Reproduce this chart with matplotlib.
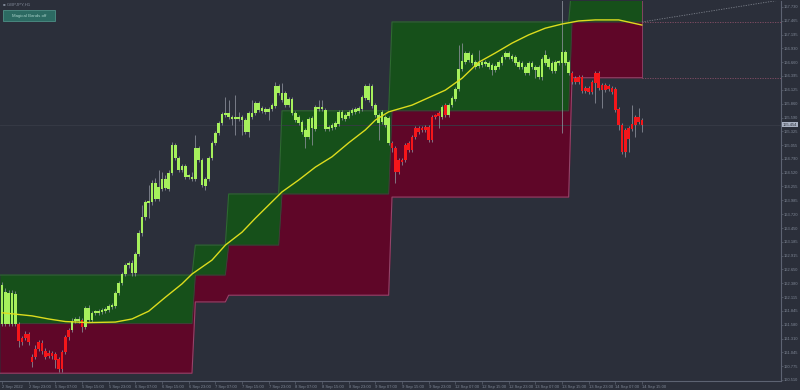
import numpy as np
import matplotlib
matplotlib.use("Agg")
import matplotlib.pyplot as plt

# ---------------- data ----------------
symbol = "GBPJPY,H1"
button_text = "Magical Bands off"

open_ = [161.59, 161.59, 161.59, 161.59, 161.59, 161.59, 161.32, 161.40, 161.40, 160.95,
         161.11, 161.24, 161.22, 161.07, 161.03, 161.03, 161.01, 160.91, 161.05, 161.34,
         161.48, 161.48, 161.65, 161.65, 161.67, 161.53, 161.67, 161.67, 161.81, 161.81,
         161.83, 161.84, 161.86, 161.92, 161.94, 162.19, 162.39, 162.56, 162.74, 162.58,
         162.58, 162.95, 163.35, 163.66, 163.94, 163.95, 164.01, 164.01, 164.21, 164.23,
         164.21, 164.52, 164.81, 164.57, 164.57, 164.44, 164.44, 164.40, 164.40, 164.77,
         164.28, 164.26, 164.40, 164.81, 165.10, 165.29, 165.48, 165.64, 165.60, 165.56,
         165.56, 165.56, 165.54, 165.31, 165.31, 165.60, 165.68, 165.74, 165.72, 165.70,
         165.70, 165.76, 165.81, 166.07, 165.93, 165.83, 165.83, 165.68, 165.54, 165.48,
         165.31, 165.21, 165.21, 165.39, 165.37, 165.76, 165.76, 165.37, 165.37, 165.39,
         165.41, 165.46, 165.58, 165.56, 165.62, 165.68, 165.70, 165.72, 165.76, 165.97,
         165.93, 165.81, 165.64, 165.48, 165.50, 165.45, 165.10, 165.10, 165.00, 164.77,
         164.77, 165.06, 165.10, 165.21, 165.39, 165.39, 165.39, 165.41, 165.41, 165.60,
         165.62, 165.68, 165.60, 165.83, 165.64, 165.83, 165.95, 166.14, 166.53, 166.67,
         166.70, 166.65, 166.57, 166.59, 166.61, 166.63, 166.57, 166.51, 166.51, 166.57,
         166.65, 166.76, 166.76, 166.72, 166.65, 166.57, 166.57, 166.45, 166.45, 166.57,
         166.51, 166.37, 166.37, 166.65, 166.57, 166.49, 166.49, 166.65, 166.65, 166.65,
         166.45, 166.45, 166.36, 166.37, 166.37, 166.16, 166.16, 166.28, 166.45, 166.45,
         166.22, 166.22, 166.20, 166.16, 166.14, 165.76, 165.45, 165.35, 165.39, 165.46,
         165.60, 165.60, 165.54]

high = [162.41, 162.29, 162.25, 162.25, 162.23, 161.63, 161.36, 161.46, 161.44, 161.01,
        161.19, 161.28, 161.28, 161.13, 161.09, 161.07, 161.05, 160.95, 161.09, 161.38,
        161.52, 161.71, 161.73, 161.75, 161.71, 161.94, 161.96, 161.84, 161.86, 161.88,
        161.90, 161.92, 161.98, 162.00, 162.23, 162.43, 162.60, 162.77, 162.81, 162.83,
        162.99, 163.41, 163.90, 163.99, 164.28, 164.38, 164.42, 164.57, 164.54, 164.48,
        164.57, 165.12, 165.10, 164.85, 164.69, 164.69, 164.50, 164.54, 165.25, 165.04,
        164.81, 164.44, 164.85, 165.14, 165.33, 165.52, 165.70, 165.99, 165.93, 165.64,
        166.03, 165.70, 165.64, 165.58, 165.72, 165.93, 165.91, 165.91, 165.81, 165.79,
        165.79, 165.87, 166.28, 166.24, 166.26, 166.10, 165.99, 165.99, 165.72, 165.64,
        165.54, 165.39, 165.60, 165.62, 165.83, 165.93, 165.93, 165.77, 165.45, 165.48,
        165.52, 165.74, 165.74, 165.68, 165.74, 165.77, 165.79, 165.81, 166.03, 166.24,
        166.26, 166.24, 165.87, 165.68, 165.74, 165.64, 165.62, 165.14, 165.04, 164.81,
        164.81, 165.10, 165.14, 165.25, 165.43, 165.43, 165.43, 165.45, 165.45, 165.64,
        165.66, 165.72, 165.83, 165.87, 165.87, 166.01, 166.18, 166.99, 167.03, 166.88,
        166.88, 166.84, 166.70, 166.90, 166.70, 166.70, 166.68, 166.65, 166.63, 166.70,
        166.80, 166.88, 166.88, 166.82, 166.80, 166.70, 166.68, 166.61, 166.68, 166.68,
        166.61, 166.61, 166.76, 166.90, 166.76, 166.68, 166.70, 166.70, 167.87, 166.90,
        166.70, 166.49, 166.39, 166.41, 166.41, 166.20, 166.20, 166.32, 166.49, 166.49,
        166.26, 166.26, 166.24, 166.20, 166.18, 165.79, 165.48, 165.39, 165.43, 165.83,
        165.64, 165.77, 165.58]

low = [161.55, 161.55, 161.55, 161.55, 161.55, 161.15, 161.19, 161.28, 161.19, 160.76,
       160.91, 161.07, 161.01, 160.91, 160.93, 160.91, 160.74, 160.66, 160.66, 161.01,
       161.28, 161.44, 161.61, 161.61, 161.44, 161.50, 161.63, 161.63, 161.77, 161.77,
       161.79, 161.81, 161.83, 161.88, 161.90, 162.15, 162.35, 162.52, 162.68, 162.52,
       162.52, 162.91, 163.30, 163.61, 163.65, 163.90, 163.97, 163.97, 164.17, 164.19,
       164.17, 164.48, 164.77, 164.54, 164.54, 164.40, 164.40, 164.36, 164.36, 164.73,
       164.25, 164.19, 164.36, 164.77, 165.06, 165.25, 165.45, 165.60, 165.56, 165.45,
       165.25, 165.52, 165.25, 165.27, 165.21, 165.56, 165.64, 165.70, 165.68, 165.66,
       165.54, 165.72, 165.77, 166.03, 165.89, 165.79, 165.79, 165.64, 165.50, 165.45,
       165.27, 165.00, 165.17, 165.06, 165.33, 165.72, 165.72, 165.33, 165.33, 165.35,
       165.37, 165.43, 165.54, 165.52, 165.58, 165.64, 165.66, 165.68, 165.72, 165.93,
       165.89, 165.77, 165.60, 165.16, 165.46, 165.41, 165.06, 164.92, 164.32, 164.50,
       164.67, 164.73, 164.92, 164.92, 165.17, 165.27, 165.31, 165.31, 165.12, 165.12,
       165.56, 165.39, 165.56, 165.60, 165.60, 165.79, 165.91, 166.10, 166.49, 166.63,
       166.67, 166.61, 166.53, 166.55, 166.57, 166.59, 166.53, 166.41, 166.47, 166.53,
       166.61, 166.72, 166.72, 166.68, 166.61, 166.53, 166.53, 166.41, 166.41, 166.53,
       166.36, 166.34, 166.32, 166.61, 166.53, 166.45, 166.45, 166.61, 165.29, 166.61,
       166.41, 166.24, 166.24, 166.24, 166.07, 166.07, 166.05, 166.05, 165.87, 166.12,
       165.77, 166.08, 166.10, 166.05, 165.70, 165.35, 164.88, 164.83, 164.92, 165.33,
       165.21, 165.46, 165.31]

close = [162.35, 162.21, 162.19, 162.19, 162.17, 161.26, 161.24, 161.32, 161.24, 160.86,
         160.95, 161.11, 161.07, 160.95, 160.97, 160.97, 160.90, 160.72, 160.72, 161.05,
         161.34, 161.65, 161.69, 161.69, 161.53, 161.90, 161.90, 161.81, 161.83, 161.84,
         161.86, 161.88, 161.94, 161.96, 162.19, 162.39, 162.56, 162.74, 162.77, 162.77,
         162.95, 163.35, 163.66, 163.95, 163.97, 164.32, 164.32, 164.25, 164.40, 164.40,
         164.52, 165.06, 165.06, 164.81, 164.65, 164.65, 164.46, 164.44, 165.00, 165.00,
         164.77, 164.40, 164.81, 165.10, 165.29, 165.48, 165.66, 165.68, 165.68, 165.60,
         165.60, 165.60, 165.60, 165.54, 165.68, 165.68, 165.87, 165.87, 165.77, 165.76,
         165.76, 165.83, 166.20, 166.20, 166.07, 166.07, 165.95, 165.95, 165.68, 165.60,
         165.50, 165.35, 165.56, 165.58, 165.79, 165.79, 165.79, 165.74, 165.41, 165.45,
         165.48, 165.70, 165.70, 165.64, 165.70, 165.74, 165.76, 165.77, 165.99, 166.20,
         166.20, 166.20, 165.83, 165.64, 165.70, 165.60, 165.58, 165.00, 164.54, 164.54,
         164.73, 164.77, 164.96, 164.96, 165.21, 165.31, 165.35, 165.35, 165.16, 165.16,
         165.60, 165.62, 165.79, 165.64, 165.83, 165.97, 166.14, 166.53, 166.68, 166.84,
         166.84, 166.80, 166.67, 166.65, 166.67, 166.67, 166.65, 166.61, 166.59, 166.67,
         166.76, 166.84, 166.84, 166.78, 166.76, 166.67, 166.65, 166.57, 166.65, 166.65,
         166.57, 166.57, 166.72, 166.80, 166.72, 166.65, 166.67, 166.67, 166.86, 166.86,
         166.67, 166.28, 166.28, 166.28, 166.10, 166.10, 166.08, 166.08, 166.26, 166.16,
         166.12, 166.12, 166.14, 166.08, 165.74, 165.45, 164.92, 164.92, 165.17, 165.37,
         165.45, 165.50, 165.45]

# Stepped band segments (bar index ranges and levels)
seg_start = [0, 58, 68, 84, 117, 171]
seg_end = [57, 67, 83, 116, 170, 192]
band_upper = [162.54, 163.12, 164.11, 165.72, 167.44, 168.20]
band_mid = [161.60, 162.54, 163.12, 164.11, 165.72, 167.44]
band_lower = [160.64, 162.02, 162.15, 162.15, 164.05, 166.36]

# Moving average read at sample bars
ma_bar = [0, 9, 14, 19, 26, 34, 39, 44, 49, 54, 57, 63, 67, 72, 76, 84, 89, 94, 99, 104,
          109, 112, 116, 123, 133, 138, 143, 148, 153, 158, 163, 168, 173, 178, 185, 192]
ma_val = [161.81, 161.75, 161.69, 161.64, 161.62, 161.63, 161.69, 161.84, 162.11, 162.37,
          162.56, 162.83, 163.12, 163.37, 163.64, 164.15, 164.38, 164.63, 164.83, 165.10,
          165.35, 165.54, 165.70, 165.83, 166.12, 166.35, 166.66, 166.84, 167.03, 167.19,
          167.32, 167.40, 167.46, 167.48, 167.48, 167.38]

# projection after the last bar
proj_bar = [192, 233]
proj_upper = [167.44, 167.86]

bid = 165.454

price_ticks = [167.730, 167.465, 167.195, 166.930, 166.660, 166.395, 166.125, 165.860,
               165.590, 165.325, 165.055, 164.790, 164.520, 164.255, 163.985, 163.720,
               163.450, 163.185, 162.915, 162.650, 162.380, 162.115, 161.845, 161.580,
               161.310, 161.045, 160.775, 160.510]

time_labels = ["2 Sep 2022", "2 Sep 23:00", "5 Sep 07:00", "5 Sep 15:00", "5 Sep 23:00",
               "6 Sep 07:00", "6 Sep 15:00", "6 Sep 23:00", "7 Sep 07:00", "7 Sep 15:00",
               "7 Sep 23:00", "8 Sep 07:00", "8 Sep 15:00", "8 Sep 23:00", "9 Sep 07:00",
               "9 Sep 15:00", "9 Sep 23:00", "12 Sep 07:00", "12 Sep 15:00", "12 Sep 23:00",
               "13 Sep 07:00", "13 Sep 15:00", "13 Sep 23:00", "14 Sep 07:00", "14 Sep 15:00"]
bars_per_label = 8

# ---------------- style ----------------
BG = "#2b2f3a"
GREEN_FILL = "#16501a"
RED_FILL = "#5f0628"
GREEN_EDGE = "#2d6b2f"
RED_EDGE = "#93456a"
LIME = "#a6f05c"
RED = "#f4161a"
WICK = "#8d929c"
MA_COL = "#dcdc1e"
AXIS = "#5d6372"
TXT = "#7f8796"
FONT = "Liberation Sans"

plt.rcParams["font.family"] = [FONT, "DejaVu Sans"]

o = np.array(open_); h = np.array(high); l = np.array(low); c = np.array(close)
n = len(c)
x = np.arange(n)

up = np.zeros(n); md = np.zeros(n); lo = np.zeros(n)
for s, e, u_, m_, l_ in zip(seg_start, seg_end, band_upper, band_mid, band_lower):
    up[s:e + 1] = u_
    md[s:e + 1] = m_
    lo[s:e + 1] = l_

fig = plt.figure(figsize=(8, 3.9), dpi=100)
fig.patch.set_facecolor(BG)
ax = fig.add_axes([0, 9 / 390, 781 / 800, 380 / 390])
ax.set_facecolor(BG)
XMIN, XMAX = -0.6, 233.7
ax.set_xlim(XMIN, XMAX)
ax.set_ylim(160.489, 167.846)

# extend first segment to left border
xb = np.concatenate([[XMIN], x])
upb = np.concatenate([[up[0]], up])
mdb = np.concatenate([[md[0]], md])
lob = np.concatenate([[lo[0]], lo])

ax.fill_between(xb, mdb, upb, color=GREEN_FILL, lw=0, zorder=1)
ax.fill_between(xb, lob, mdb, color=RED_FILL, lw=0, zorder=1)
ax.plot(xb, upb, color=GREEN_EDGE, lw=0.8, zorder=1.5)
ax.plot(xb, mdb, color="#4a3a3e", lw=0.6, zorder=1.5)
ax.plot(xb, lob, color=RED_EDGE, lw=0.8, zorder=1.5)
# right edge of last box
ax.vlines(x[-1], lo[-1], up[-1], color=RED_EDGE, lw=0.6, zorder=1.5)

# projections
ax.hlines([md[-1], lo[-1]], x[-1], XMAX, colors="#8a5068", lw=0.6,
          linestyles=(0, (1.5, 1.5)), zorder=1.5)
ax.plot(proj_bar, proj_upper, color="#7c818b", lw=0.6, ls=(0, (1.5, 1.5)), zorder=1.5)

# bid line
ax.axhline(bid, color="#373b46", lw=0.6, zorder=1.2)

# candles
cols = np.where(c >= md, LIME, RED)
ax.vlines(x, l, h, color=WICK, lw=0.55, zorder=3)
bot = np.minimum(o, c)
hgt = np.maximum(np.abs(c - o), 0.03)
ax.bar(x, hgt, bottom=bot, width=0.72, color=cols, lw=0, zorder=4)

# moving average
ax.plot(ma_bar, ma_val, color=MA_COL, lw=1.0, zorder=5, solid_capstyle="round")

# axes
for sp in ["top", "left"]:
    ax.spines[sp].set_visible(False)
ax.spines["right"].set_color(AXIS)
ax.spines["bottom"].set_color(AXIS)
ax.spines["right"].set_linewidth(0.8)
ax.spines["bottom"].set_linewidth(0.8)

ax.yaxis.set_ticks_position("right")
ax.set_yticks(price_ticks, labels=[f"{p:.3f}" for p in price_ticks])
ax.tick_params(axis="y", colors=AXIS, labelcolor=TXT, labelsize=2.9, length=1.5,
               width=0.5, pad=0.8)

tick_pos = np.arange(0, n, bars_per_label)
ax.set_xticks(tick_pos, labels=time_labels)
ax.tick_params(axis="x", colors=AXIS, labelcolor=TXT, labelsize=3.0, length=1.8,
               width=0.5, pad=0.8)
for t in ax.get_xticklabels():
    t.set_horizontalalignment("left")

# bid price label
ax.text(1.002, bid, f"{bid:.3f}", transform=ax.get_yaxis_transform(), fontsize=2.9,
        va="center", ha="left", color="#2b2f3a",
        bbox=dict(boxstyle="square,pad=0.2", fc="#aab2c3", ec="none"), zorder=10)

# title & button
fig.text(3 / 800, 1 - 4.5 / 390, "\u25a0 " + symbol, fontsize=3.2, color=TXT,
         va="center", ha="left")
btn = plt.Rectangle((3 / 800, 1 - 21 / 390), 52 / 800, 11 / 390, transform=fig.transFigure,
                    fc="#2c6a62", ec="#4e8f86", lw=0.6)
fig.patches.append(btn)
fig.text(29 / 800, 1 - 15.5 / 390, button_text, fontsize=3.2, color="#a5cfc7",
         va="center", ha="center")

fig.savefig("out.png", dpi=100, facecolor=BG)
